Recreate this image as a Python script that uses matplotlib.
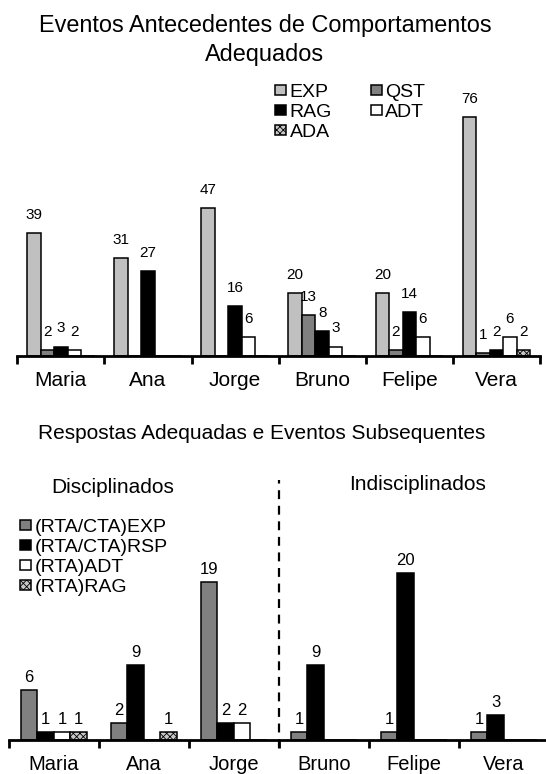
import numpy as np
import matplotlib
matplotlib.use("Agg")
import matplotlib.pyplot as plt

plt.rcParams['font.family'] = ['Liberation Sans', 'DejaVu Sans']
plt.rcParams['hatch.color'] = '#6e6e6e'
plt.rcParams['hatch.linewidth'] = 0.6

W, H = 546, 774

# --- data: top chart (Eventos antecedentes) ---
nomes = ["Maria", "Ana", "Jorge", "Bruno", "Felipe", "Vera"]
exp_top = [39, 31, 47, 20, 20, 76]
qst_top = [2, 0, 0, 13, 2, 1]
rag_top = [3, 27, 16, 8, 14, 2]
adt_top = [2, 0, 6, 3, 6, 6]
ada_top = [0, 0, 0, 0, 0, 2]

# --- data: bottom chart (Respostas adequadas) ---
exp_bot = [6, 2, 19, 1, 1, 1]
rsp_bot = [1, 9, 2, 9, 20, 3]
adt_bot = [1, 0, 2, 0, 0, 0]
rag_bot = [1, 1, 0, 0, 0, 0]


def px(x0, y0, x1, y1):
    # pixel box (top-left origin) -> figure fraction rect
    return [x0 / W, 1 - y1 / H, (x1 - x0) / W, (y1 - y0) / H]


def style_axis(ax, n, tick_fs):
    for s in ['left', 'right', 'top']:
        ax.spines[s].set_visible(False)
    ax.spines['bottom'].set_linewidth(2)
    ax.set_yticks([])
    ax.set_xlim(-0.5, n - 0.5)
    ax.set_xticks(np.arange(n + 1) - 0.5)
    ax.set_xticklabels([])
    ax.tick_params(axis='x', which='major', length=6, width=2, direction='out')
    ax.set_xticks(np.arange(n), minor=True)
    ax.set_xticklabels(nomes, minor=True, fontsize=tick_fs)
    ax.tick_params(axis='x', which='minor', length=0, pad=11)


fig = plt.figure(figsize=(W / 100, H / 100), dpi=100)

# ---------------- top chart ----------------
ax1 = fig.add_axes(px(17.3, 104, 540, 356))
x = np.arange(len(nomes))
bw = 0.155
series_top = [
    (exp_top, "EXP", dict(color='#c0c0c0')),
    (qst_top, "QST", dict(color='#808080')),
    (rag_top, "RAG", dict(color='black')),
    (adt_top, "ADT", dict(color='white')),
    (ada_top, "ADA", dict(color='#c8c8c8', hatch='xxxxx')),
]
handles = {}
for i, (vals, lab, st) in enumerate(series_top):
    pos = x + (i - 2) * bw
    b = ax1.bar(pos, vals, bw, edgecolor='black', linewidth=1.1, label=lab, **st)
    handles[lab] = b
    for xp, v in zip(pos, vals):
        if v > 0:
            ax1.annotate(str(v), (xp, v), xytext=(0, 13), textcoords='offset points',
                         ha='center', va='center', fontsize=11)
ax1.set_ylim(0, 80)
style_axis(ax1, len(nomes), 15)

order = ["EXP", "RAG", "ADA", "QST", "ADT"]
fig.legend([handles[k] for k in order], order, ncol=2, frameon=False,
           loc='upper left', bbox_to_anchor=(275 / W, 1 - 84 / H),
           fontsize=14, handlelength=0.55, handleheight=0.45,
           handletextpad=0.2, columnspacing=2.0, labelspacing=0.15,
           borderaxespad=0, borderpad=0)

fig.text(265 / W, 1 - 40 / H, "Eventos Antecedentes de Comportamentos\nAdequados",
         ha='center', va='center', multialignment='center', fontsize=16.9,
         linespacing=1.3)

# ---------------- bottom chart ----------------
ax2 = fig.add_axes(px(8.7, 540, 548.7, 740))
bw2 = 0.183
series_bot = [
    (exp_bot, "(RTA/CTA)EXP", dict(color='#808080')),
    (rsp_bot, "(RTA/CTA)RSP", dict(color='black')),
    (adt_bot, "(RTA)ADT", dict(color='white')),
    (rag_bot, "(RTA)RAG", dict(color='#c8c8c8', hatch='xxxxx')),
]
hb = []
for i, (vals, lab, st) in enumerate(series_bot):
    pos = x + (i - 1.5) * bw2
    b = ax2.bar(pos, vals, bw2, edgecolor='black', linewidth=1.1, label=lab, **st)
    hb.append(b)
    for xp, v in zip(pos, vals):
        if v > 0:
            ax2.annotate(str(v), (xp, v), xytext=(0, 9), textcoords='offset points',
                         ha='center', va='center', fontsize=12)
ax2.set_ylim(0, 24)
style_axis(ax2, len(nomes), 14.5)

ax2.plot([2.5, 2.5], [-0.04, 1.3], transform=ax2.get_xaxis_transform(),
         color='black', linestyle=(0, (4, 3)), linewidth=1.6, clip_on=False)

fig.legend(hb, [s[1] for s in series_bot], frameon=False, loc='upper left',
           bbox_to_anchor=(20 / W, 1 - 519 / H), fontsize=14,
           handlelength=0.55, handleheight=0.45, handletextpad=0.2,
           labelspacing=0.15, borderaxespad=0, borderpad=0)

fig.text(262 / W, 1 - 434 / H, "Respostas Adequadas e Eventos Subsequentes",
         ha='center', va='center', fontsize=15)
fig.text(113 / W, 1 - 487 / H, "Disciplinados", ha='center', va='center', fontsize=15)
fig.text(418 / W, 1 - 485 / H, "Indisciplinados", ha='center', va='center', fontsize=15)

fig.savefig("out.png", dpi=100)
